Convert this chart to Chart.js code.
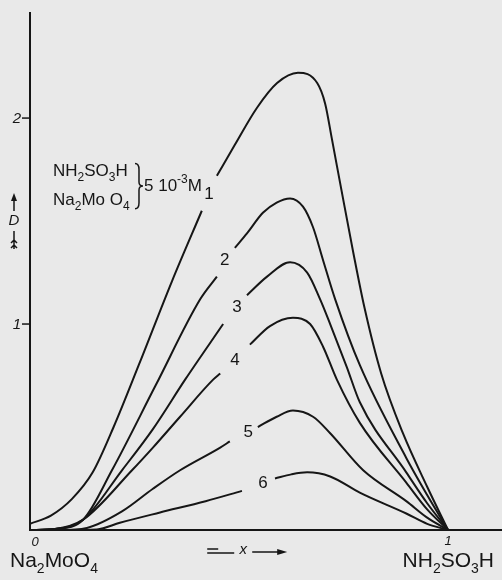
<!DOCTYPE html>
<html>
<head>
<meta charset="utf-8">
<script src="https://cdn.jsdelivr.net/npm/chart.js@4.4.1/dist/chart.umd.min.js"></script>
<style>
  body { margin: 0; background: #e9e9e9; }
</style>
</head>
<body>
<canvas id="myCanvas" width="502" height="580"></canvas>
<script>
// x = mole fraction of NH2SO3H, D = optical density
// null marks the little break where the curve number is written
const x1 = [0, 0.05, 0.1, 0.15, 0.2, 0.26, 0.34, 0.411, 0.43, 0.447, 0.49, 0.543, 0.591, 0.641, 0.687, 0.706, 0.722, 0.745, 0.773, 0.8, 0.84, 0.892, 0.95, 1.0]
const d1 = [0.03, 0.07, 0.15, 0.28, 0.50, 0.80, 1.21, 1.55, null, 1.72, 1.87, 2.05, 2.17, 2.22, 2.17, 2.07, 1.90, 1.65, 1.35, 1.08, 0.76, 0.47, 0.21, 0]

const x2 = [0, 0.06, 0.127, 0.196, 0.3, 0.407, 0.447, 0.47, 0.49, 0.519, 0.557, 0.59, 0.622, 0.653, 0.677, 0.701, 0.73, 0.789, 0.9, 0.95, 1.0]
const d2 = [0, 0.005, 0.05, 0.29, 0.70, 1.12, 1.23, null, 1.37, 1.44, 1.54, 1.59, 1.61, 1.57, 1.47, 1.31, 1.12, 0.80, 0.35, 0.17, 0]

const x3 = [0, 0.06, 0.127, 0.22, 0.294, 0.371, 0.462, 0.49, 0.519, 0.567, 0.622, 0.663, 0.694, 0.718, 0.758, 0.789, 0.9, 0.95, 1.0]
const d3 = [0, 0.005, 0.05, 0.29, 0.49, 0.73, 1.0, null, 1.14, 1.23, 1.30, 1.25, 1.12, 1.0, 0.79, 0.62, 0.28, 0.13, 0]

const x4 = [0, 0.06, 0.127, 0.244, 0.294, 0.359, 0.438, 0.455, 0.49, 0.526, 0.574, 0.629, 0.67, 0.701, 0.734, 0.789, 0.9, 0.95, 1.0]
const d4 = [0, 0.005, 0.05, 0.29, 0.40, 0.55, 0.73, 0.76, null, 0.90, 0.99, 1.03, 1.0, 0.89, 0.73, 0.52, 0.23, 0.10, 0]

const x5 = [0, 0.07, 0.136, 0.22, 0.294, 0.359, 0.455, 0.478, 0.51, 0.545, 0.59, 0.629, 0.677, 0.718, 0.797, 0.9, 0.95, 1.0]
const d5 = [0, 0, 0.01, 0.09, 0.20, 0.29, 0.40, 0.43, null, 0.50, 0.55, 0.58, 0.55, 0.47, 0.29, 0.14, 0.06, 0]

const x6 = [0, 0.08, 0.16, 0.215, 0.311, 0.42, 0.507, 0.55, 0.586, 0.625, 0.663, 0.718, 0.79, 0.9, 0.95, 1.0]
const d6 = [0, 0, 0.003, 0.035, 0.085, 0.14, 0.19, null, 0.25, 0.27, 0.28, 0.26, 0.18, 0.08, 0.03, 0]

const curveNames = ['1', '2', '3', '4', '5', '6']
const yTicks = [1, 2]
const xTicks = ['0', '1']

const xs_all = [x1, x2, x3, x4, x5, x6]
const ds_all = [d1, d2, d3, d4, d5, d6]

// where the curve numbers sit (x, D)
const nameAt = [[0.428, 1.63], [0.466, 1.31], [0.495, 1.08], [0.49, 0.825], [0.522, 0.476], [0.557, 0.228]]

const ink = '#161616'
const font = '"Liberation Sans", "DejaVu Sans", sans-serif'

function formula(c, parts, x, y, size, align) {
    // parts: [text, 0 normal | 1 subscript | -1 superscript]
    let w = 0
    parts.forEach(p => {
        c.font = (p[1] ? Math.round(size * 0.68) : size) + 'px ' + font
        w += c.measureText(p[0]).width
    })
    let cx = align === 'right' ? x - w : x
    c.textAlign = 'left'
    c.textBaseline = 'alphabetic'
    parts.forEach(p => {
        c.font = (p[1] ? Math.round(size * 0.68) : size) + 'px ' + font
        let dy = p[1] === 1 ? size * 0.3 : p[1] === -1 ? -size * 0.5 : 0
        c.fillText(p[0], cx, y + dy)
        cx += c.measureText(p[0]).width
    })
}

const paper = {
    id: 'paper',
    beforeDraw(chart) {
        const c = chart.ctx
        c.save()
        c.fillStyle = '#e9e9e9'
        c.fillRect(0, 0, chart.width, chart.height)
        c.restore()
    },
    afterDatasetsDraw(chart) {
        const c = chart.ctx
        const xs = chart.scales.x, ys = chart.scales.y
        const px = v => xs.getPixelForValue(v)
        const py = v => ys.getPixelForValue(v)
        const area = chart.chartArea
        c.save()
        c.strokeStyle = ink
        c.fillStyle = ink
        c.lineWidth = 2

        // axes
        c.beginPath()
        c.moveTo(px(0), area.top)
        c.lineTo(px(0), py(0) + 1)
        c.moveTo(px(0) - 1, py(0))
        c.lineTo(area.right, py(0))
        c.stroke()

        // y ticks
        c.lineWidth = 1.5
        c.font = 'italic 15px ' + font
        c.textAlign = 'right'
        c.textBaseline = 'middle'
        yTicks.forEach(t => {
            c.beginPath()
            c.moveTo(px(0) - 8, py(t))
            c.lineTo(px(0), py(t))
            c.stroke()
            c.fillText(String(t), px(0) - 9, py(t) + 1)
        })

        // x ticks
        c.font = 'italic 13px ' + font
        c.textAlign = 'center'
        c.fillText(xTicks[0], px(0) + 5, py(0) + 12)
        c.fillText(xTicks[1], px(1), py(0) + 11)

        // curve numbers
        c.font = '17px ' + font
        nameAt.forEach((p, i) => {
            c.fillText(curveNames[i], px(p[0]), py(p[1]))
        })

        // D arrow
        const ax = px(0) - 16
        c.font = 'italic 15px ' + font
        c.fillText('D', ax, py(1.5))
        c.lineWidth = 1.5
        c.beginPath()
        c.moveTo(ax, py(1.5) - 10)
        c.lineTo(ax, py(1.5) - 24)
        c.moveTo(ax, py(1.5) + 10)
        c.lineTo(ax, py(1.5) + 28)
        c.moveTo(ax - 3, py(1.5) + 22)
        c.lineTo(ax, py(1.5) + 19)
        c.lineTo(ax + 3, py(1.5) + 22)
        c.moveTo(ax - 3, py(1.5) + 27)
        c.lineTo(ax, py(1.5) + 24)
        c.lineTo(ax + 3, py(1.5) + 27)
        c.stroke()
        c.beginPath()
        c.moveTo(ax, py(1.5) - 28)
        c.lineTo(ax - 3, py(1.5) - 20)
        c.lineTo(ax + 3, py(1.5) - 20)
        c.closePath()
        c.fill()

        // x arrow
        const xy = py(0) + 21
        const xm = px(0.51)
        c.font = 'italic 15px ' + font
        c.fillText('x', xm, xy - 1)
        c.beginPath()
        c.moveTo(xm - 36, xy - 2)
        c.lineTo(xm - 25, xy - 2)
        c.moveTo(xm - 36, xy + 2)
        c.lineTo(xm - 9, xy + 2)
        c.moveTo(xm + 9, xy + 1)
        c.lineTo(xm + 36, xy + 1)
        c.stroke()
        c.beginPath()
        c.moveTo(xm + 44, xy + 1)
        c.lineTo(xm + 34, xy - 2)
        c.lineTo(xm + 34, xy + 4)
        c.closePath()
        c.fill()

        // end-member names under the axis
        formula(c, [['Na', 0], ['2', 1], ['MoO', 0], ['4', 1]], px(0) - 20, py(0) + 37, 21, 'left')
        formula(c, [['NH', 0], ['2', 1], ['SO', 0], ['3', 1], ['H', 0]], area.right - 8, py(0) + 37, 21, 'right')

        // concentration note
        const lx = px(0.055)
        formula(c, [['NH', 0], ['2', 1], ['SO', 0], ['3', 1], ['H', 0]], lx, py(1.72), 17, 'left')
        formula(c, [['Na', 0], ['2', 1], ['Mo O', 0], ['4', 1]], lx, py(1.58), 17, 'left')
        const bx = lx + 82, bt = py(1.78), bb = py(1.56), bm = (bt + bb) / 2
        c.lineWidth = 1.5
        c.beginPath()
        c.moveTo(bx, bt)
        c.quadraticCurveTo(bx + 4, bt, bx + 4, bt + 6)
        c.lineTo(bx + 4, bm - 4)
        c.quadraticCurveTo(bx + 4, bm, bx + 8, bm)
        c.quadraticCurveTo(bx + 4, bm, bx + 4, bm + 4)
        c.lineTo(bx + 4, bb - 6)
        c.quadraticCurveTo(bx + 4, bb, bx, bb)
        c.stroke()
        formula(c, [['5 10', 0], ['-3', -1], ['M', 0]], bx + 9, bm + 5, 17, 'left')

        c.restore()
    }
}

const datasets = xs_all.map((xv, k) => ({
    label: curveNames[k],
    data: xv.map((x, i) => ({ x: x, y: ds_all[k][i] })),
    borderColor: ink,
    borderWidth: 2,
    pointRadius: 0,
    fill: false,
    spanGaps: false,
    cubicInterpolationMode: 'monotone'
}))

let ctx = document.getElementById('myCanvas').getContext('2d')
new Chart(ctx, {
    type: 'line',
    data: { datasets: datasets },
    options: {
        responsive: false,
        animation: false,
        layout: { padding: { left: 30, right: 0, top: 12, bottom: 50 } },
        scales: {
            x: { type: 'linear', min: 0, max: 1.129, display: false },
            y: { min: 0, max: 2.515, display: false }
        },
        plugins: { legend: { display: false }, tooltip: { enabled: false } }
    },
    plugins: [paper]
})
</script>
</body>
</html>
